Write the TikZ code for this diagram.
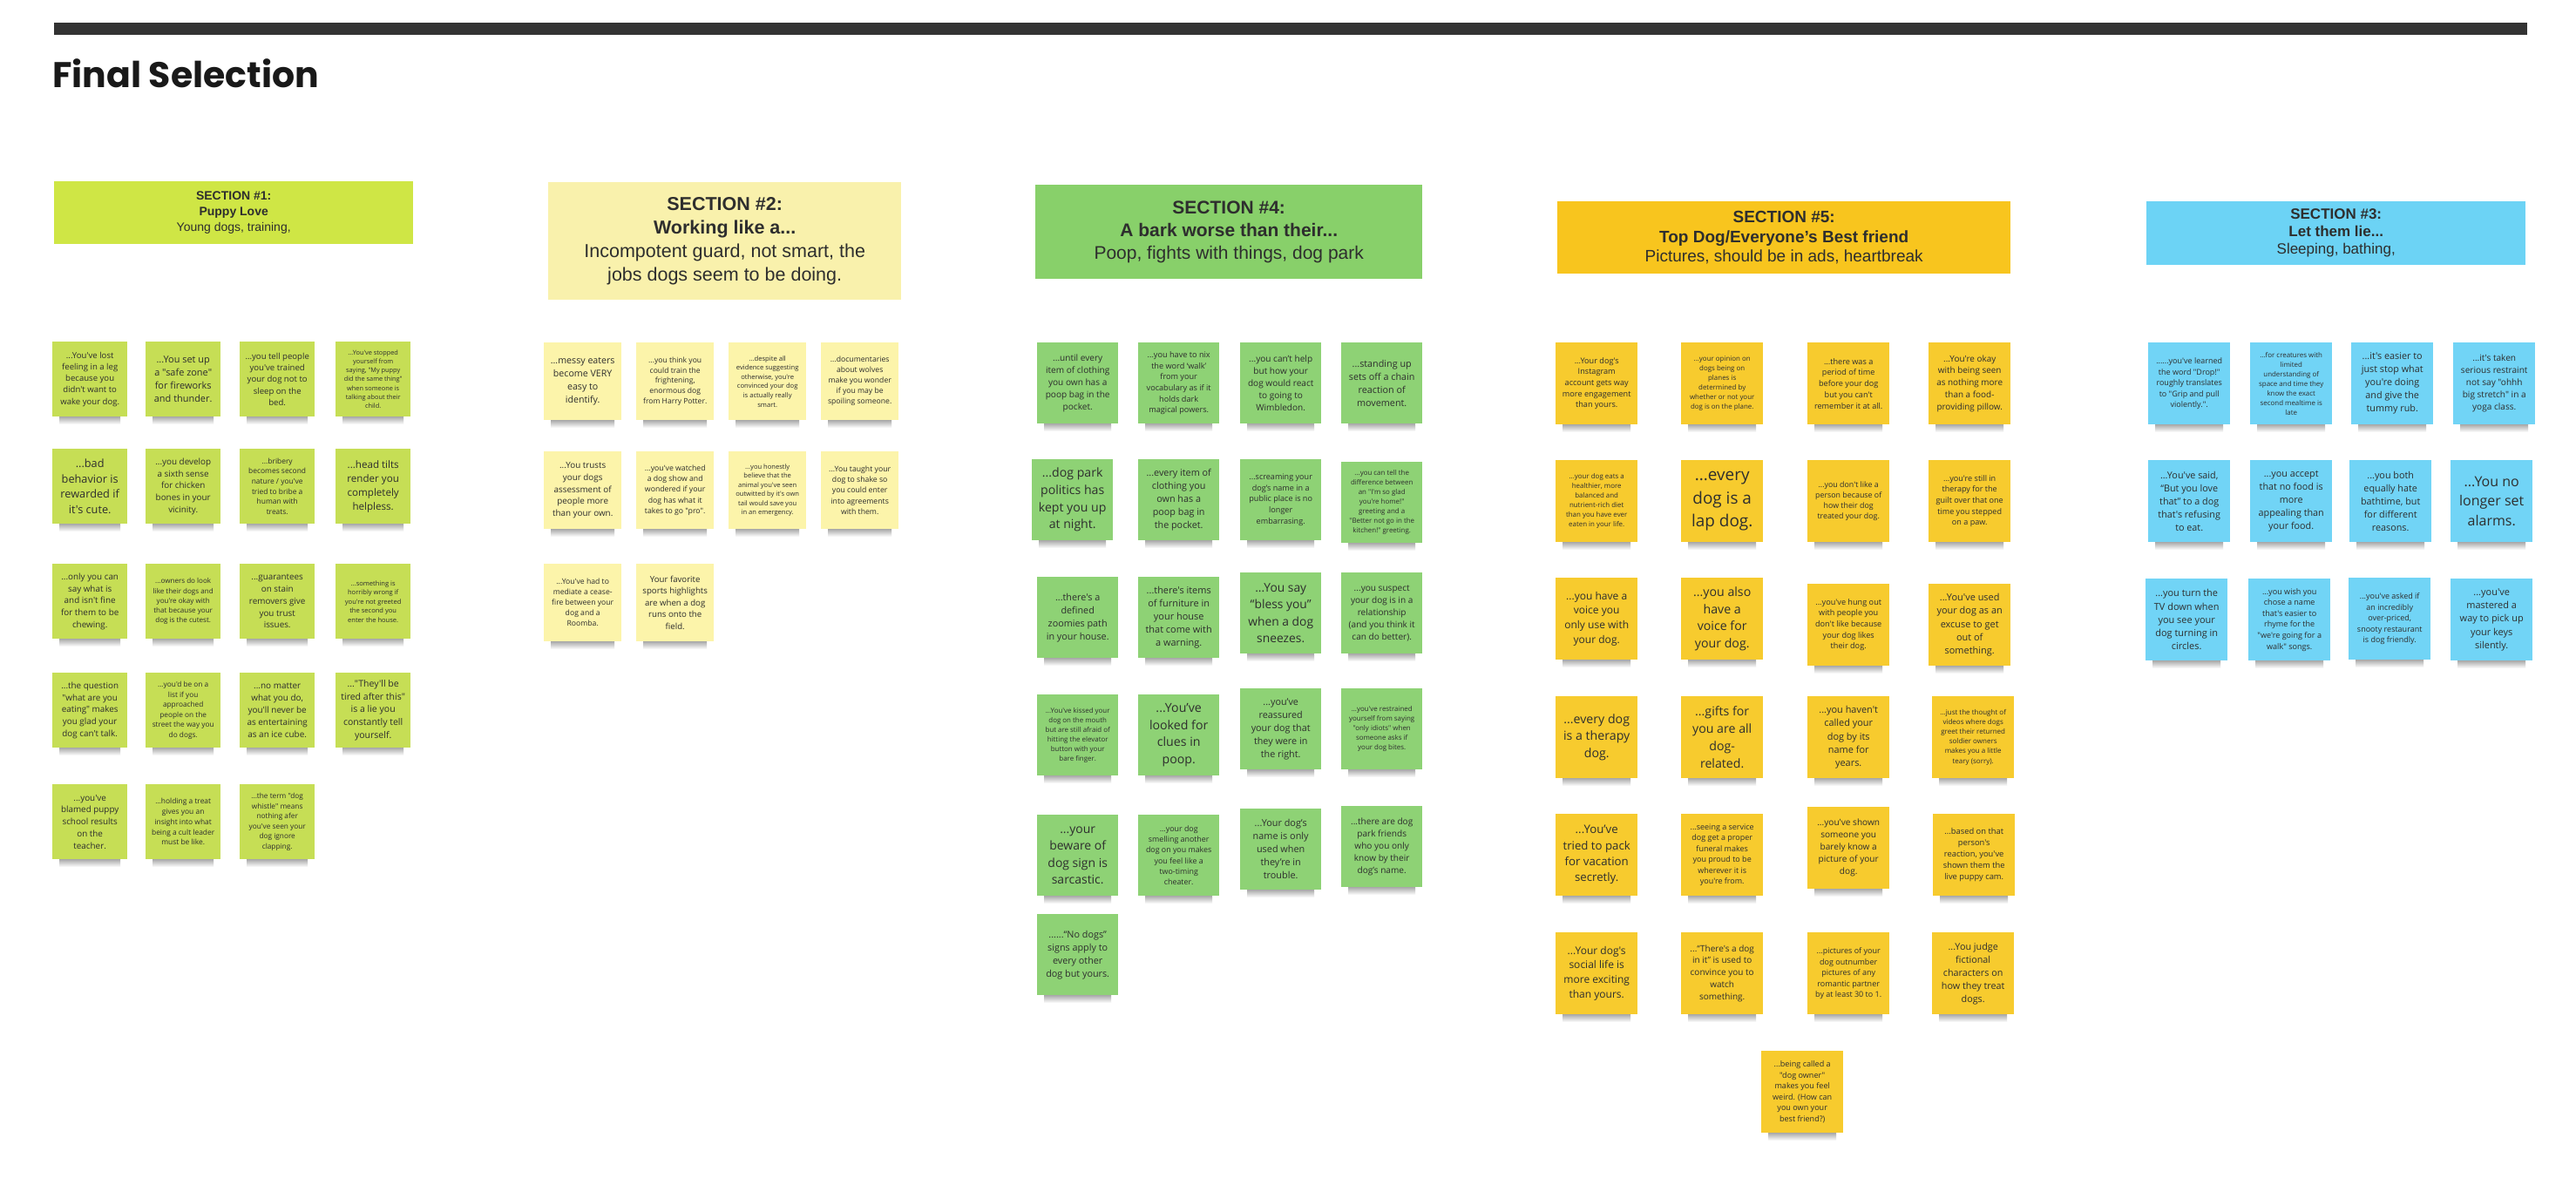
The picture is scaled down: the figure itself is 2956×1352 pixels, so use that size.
\documentclass[tikz,border=0pt]{standalone}
\usepackage{fontspec}
\setmainfont{Liberation Sans}
\newfontfamily\notefont{Open Sans}
\newfontfamily\titlefont{Poppins}

\definecolor{barcol}{HTML}{333333}
\definecolor{ink}{HTML}{2E2E2E}
\definecolor{limehead}{HTML}{CFE645}
\definecolor{limenote}{HTML}{C6DE55}
\definecolor{palehead}{HTML}{F9F1AC}
\definecolor{palenote}{HTML}{FCF4AA}
\definecolor{greenhead}{HTML}{88D06A}
\definecolor{greennote}{HTML}{8ED275}
\definecolor{goldhead}{HTML}{F8C51E}
\definecolor{goldnote}{HTML}{F7CB2E}
\definecolor{skyhead}{HTML}{6CD3F5}
\definecolor{skynote}{HTML}{71D4F6}

\tikzset{
  head/.style={fill=#1, anchor=north west, inner sep=0pt, align=center, text=ink},
  note/.style 2 args={fill=#1, anchor=north west, minimum size=#2, inner sep=1pt,
    align=center, text=ink},
}

\begin{document}
\begin{tikzpicture}[x=1pt,y=-1pt]
\useasboundingbox (0,0) rectangle (2956,1352);
\fill[white] (0,0) rectangle (2956,1352);
\fill[barcol] (62,26) rectangle (2900,40);
\node[anchor=base west, inner sep=0pt, text=black!90,
  font=\titlefont\bfseries\fontsize{41}{41}\selectfont] (title) at (60,100) {Final Selection};

% section headers
\node[head=limehead, minimum width=412pt, minimum height=72pt,
  font=\fontsize{14}{18}\selectfont] (sec1) at (62,208)
  {\textbf{SECTION \#1:}\\\textbf{Puppy Love}\\Young dogs, training,};
\node[head=palehead, minimum width=405pt, minimum height=135pt,
  font=\fontsize{21.5}{27.3}\selectfont] (sec2) at (629,209)
  {\textbf{SECTION \#2:}\\\textbf{Working like a...}\\Incompotent guard, not smart, the\\jobs dogs seem to be doing.};
\node[head=greenhead, minimum width=444pt, minimum height=108pt,
  font=\fontsize{21}{26}\selectfont] (sec4) at (1188,212)
  {\textbf{SECTION \#4:}\\\textbf{A bark worse than their...}\\Poop, fights with things, dog park};
\node[head=goldhead, minimum width=520pt, minimum height=83pt,
  font=\fontsize{19}{22.5}\selectfont] (sec5) at (1787,231)
  {\textbf{SECTION \#5:}\\\textbf{Top Dog/Everyone's Best friend}\\Pictures, should be in ads, heartbreak};
\node[head=skyhead, minimum width=435pt, minimum height=73pt,
  font=\fontsize{17}{20}\selectfont] (sec3) at (2463,231)
  {\textbf{SECTION \#3:}\\\textbf{Let them lie...}\\Sleeping, bathing,};

% section 1 notes
\foreach \x/\y/\s/\t [count=\i] in {
  60/392/13.3/{...You've lost\\feeling in a leg\\because you\\didn't want to\\wake your dog.},
  167/392/15.2/{...You set up\\a "safe zone"\\for fireworks\\and thunder.},
  275/392/13.3/{...you tell people\\you've trained\\your dog not to\\sleep on the\\bed.},
  385/392/10.2/{...You've stopped\\yourself from\\saying, "My puppy\\did the same thing"\\when someone is\\talking about their\\child.},
  60/515/17.7/{...bad\\behavior is\\rewarded if\\it's cute.},
  167/515/13.7/{...you develop\\a sixth sense\\for chicken\\bones in your\\vicinity.},
  275/515/11.7/{...bribery\\becomes second\\nature / you've\\tried to bribe a\\human with\\treats.},
  385/515/16.1/{...head tilts\\render you\\completely\\helpless.},
  60/647/13.7/{...only you can\\say what is\\and isn't fine\\for them to be\\chewing.},
  167/647/11.2/{...owners do look\\like their dogs and\\you're okay with\\that because your\\dog is the cutest.},
  275/647/13.7/{...guarantees\\on stain\\removers give\\you trust\\issues.},
  385/647/10.5/{...something is\\horribly wrong if\\you're not greeted\\the second you\\enter the house.},
  60/772/13.7/{...the question\\"what are you\\eating" makes\\you glad your\\dog can't talk.},
  167/772/11.5/{...you'd be on a\\list if you\\approached\\people on the\\street the way you\\do dogs.},
  275/772/13.8/{...no matter\\what you do,\\you'll never be\\as entertaining\\as an ice cube.},
  385/772/14.6/{..."They'll be\\tired after this"\\is a lie you\\constantly tell\\yourself.},
  60/900/13.7/{...you've\\blamed puppy\\school results\\on the\\teacher.},
  167/900/11.7/{...holding a treat\\gives you an\\insight into what\\being a cult leader\\must be like.},
  275/900/11.5/{...the term "dog\\whistle" means\\nothing afer\\you've seen your\\dog ignore\\clapping.}}
{
  \pgfmathsetmacro\fs{0.72*\s}
  \shade[top color=black!38, bottom color=white] (\x+8,\y+85) rectangle (\x+78,\y+95);
  \node[note={limenote}{86pt}, font={\notefont\fontsize{\fs pt}{\s pt}\selectfont}] (pup\i) at (\x,\y) {\t};
}

% section 2 notes
\foreach \x/\y/\s/\t [count=\i] in {
  624/393/14.8/{...messy eaters\\become VERY\\easy to\\identify.},
  730/393/11.9/{...you think you\\could train the\\frightening,\\enormous dog\\from Harry Potter.},
  836/393/10.6/{...despite all\\evidence suggesting\\otherwise, you're\\convinced your dog\\is actually really\\smart.},
  942/393/12/{...documentaries\\about wolves\\make you wonder\\if you may be\\spoiling someone.},
  624/518/13.7/{...You trusts\\your dogs\\assessment of\\people more\\than your own.},
  730/518/12.1/{...you've watched\\a dog show and\\wondered if your\\dog has what it\\takes to go "pro".},
  836/518/10.5/{...you honestly\\believe that the\\animal you've seen\\outwitted by it's own\\tail would save you\\in an emergency.},
  942/518/12.1/{...You taught your\\dog to shake so\\you could enter\\into agreements\\with them.},
  624/647/12/{...You've had to\\mediate a cease-\\fire between your\\dog and a\\Roomba.},
  730/647/13.4/{Your favorite\\sports highlights\\are when a dog\\runs onto the\\field.}}
{
  \pgfmathsetmacro\fs{0.72*\s}
  \shade[top color=black!38, bottom color=white] (\x+8,\y+88) rectangle (\x+81,\y+98);
  \node[note={palenote}{89pt}, font={\notefont\fontsize{\fs pt}{\s pt}\selectfont}] (work\i) at (\x,\y) {\t};
}

% section 4 notes
\foreach \x/\y/\s/\t [count=\i] in {
  1190/393/14/{...until every\\item of clothing\\you own has a\\poop bag in the\\pocket.},
  1306/393/12.7/{...you have to nix\\the word ‘walk’\\from your\\vocabulary as if it\\holds dark\\magical powers.},
  1423/393/14/{...you can’t help\\but how your\\dog would react\\to going to\\Wimbledon.},
  1539/393/15/{...standing up\\sets off a chain\\reaction of\\movement.},
  1184/527/19.6/{...dog park\\politics has\\kept you up\\at night.},
  1306/527/15/{...every item of\\clothing you\\own has a\\poop bag in\\the pocket.},
  1423/527/12.6/{...screaming your\\dog’s name in a\\public place is no\\longer\\embarrasing.},
  1539/530/11/{...you can tell the\\difference between\\an "I'm so glad\\you're home!"\\greeting and a\\"Better not go in the\\kitchen!" greeting.},
  1190/662/15/{...there's a\\defined\\zoomies path\\in your house.},
  1306/662/15.2/{...there's items\\of furniture in\\your house\\that come with\\a warning.},
  1423/657/19.2/{...You say\\“bless you”\\when a dog\\sneezes.},
  1539/657/14/{...you suspect\\your dog is in a\\relationship\\(and you think it\\can do better).},
  1190/797/11/{...You've kissed your\\dog on the mouth\\but are still afraid of\\hitting the elevator\\button with your\\bare finger.},
  1306/797/19.7/{...You’ve\\looked for\\clues in\\poop.},
  1423/790/15/{...you’ve\\reassured\\your dog that\\they were in\\the right.},
  1539/790/11/{...you've restrained\\yourself from saying\\"only idiots" when\\someone asks if\\your dog bites.},
  1190/935/19.4/{...your\\beware of\\dog sign is\\sarcastic.},
  1306/935/12.3/{...your dog\\smelling another\\dog on you makes\\you feel like a\\two-timing\\cheater.},
  1423/928/15.1/{...Your dog’s\\name is only\\used when\\they’re in\\trouble.},
  1539/925/14/{...there are dog\\park friends\\who you only\\know by their\\dog’s name.},
  1190/1049/15/{......“No dogs”\\signs apply to\\every other\\dog but yours.}}
{
  \pgfmathsetmacro\fs{0.72*\s}
  \shade[top color=black!38, bottom color=white] (\x+8,\y+92) rectangle (\x+85,\y+102);
  \node[note={greennote}{93pt}, font={\notefont\fontsize{\fs pt}{\s pt}\selectfont}] (bark\i) at (\x,\y) {\t};
}

% section 5 notes
\foreach \x/\y/\s/\t [count=\i] in {
  1785/393/12.7/{...Your dog's\\Instagram\\account gets way\\more engagement\\than yours.},
  1929/393/11/{...your opinion on\\dogs being on\\planes is\\determined by\\whether or not your\\dog is on the plane.},
  2074/393/12.7/{...there was a\\period of time\\before your dog\\but you can't\\remember it at all.},
  2213/393/13.8/{...You're okay\\with being seen\\as nothing more\\than a food-\\providing pillow.},
  1785/528/11/{...your dog eats a\\healthier, more\\balanced and\\nutrient-rich diet\\than you have ever\\eaten in your life.},
  1929/528/26.3/{...every\\dog is a\\lap dog.},
  2074/528/12.3/{...you don't like a\\person because of\\how their dog\\treated your dog.},
  2213/528/12.6/{...you're still in\\therapy for the\\guilt over that one\\time you stepped\\on a paw.},
  1785/663/16.7/{...you have a\\voice you\\only use with\\your dog.},
  1929/663/19.7/{...you also\\have a\\voice for\\your dog.},
  2074/670/12.7/{...you've hung out\\with people you\\don't like because\\your dog likes\\their dog.},
  2213/670/15.2/{...You've used\\your dog as an\\excuse to get\\out of\\something.},
  1785/799/19.7/{...every dog\\is a therapy\\dog.},
  1929/799/19.7/{...gifts for\\you are all\\dog-\\related.},
  2074/799/15.2/{...you haven't\\called your\\dog by its\\name for\\years.},
  2217/799/11.1/{...just the thought of\\videos where dogs\\greet their returned\\soldier owners\\makes you a little\\teary (sorry).},
  1785/934/18.4/{...You’ve\\tried to pack\\for vacation\\secretly.},
  1929/934/12.5/{...seeing a service\\dog get a proper\\funeral makes\\you proud to be\\wherever it is\\you're from.},
  2074/926/14/{...you've shown\\someone you\\barely know a\\picture of your\\dog.},
  2218/934/13/{...based on that\\person's\\reaction, you've\\shown them the\\live puppy cam.},
  1785/1070/16.7/{...Your dog's\\social life is\\more exciting\\than yours.},
  1929/1070/13.9/{...“There's a dog\\in it” is used to\\convince you to\\watch\\something.},
  2074/1070/12.5/{...pictures of your\\dog outnumber\\pictures of any\\romantic partner\\by at least 30 to 1.},
  2217/1070/15/{...You judge\\fictional\\characters on\\how they treat\\dogs.},
  2021/1206/12.6/{...being called a\\"dog owner"\\makes you feel\\weird. (How can\\you own your\\best friend?)}}
{
  \pgfmathsetmacro\fs{0.72*\s}
  \shade[top color=black!38, bottom color=white] (\x+8,\y+93) rectangle (\x+86,\y+103);
  \node[note={goldnote}{94pt}, font={\notefont\fontsize{\fs pt}{\s pt}\selectfont}] (top\i) at (\x,\y) {\t};
}

% section 3 notes
\foreach \x/\y/\s/\t [count=\i] in {
  2465/393/12.5/{......you've learned\\the word "Drop!"\\roughly translates\\to "Grip and pull\\violently.".},
  2582/393/11/{...for creatures with\\limited\\understanding of\\space and time they\\know the exact\\second mealtime is\\late},
  2698/393/15/{...it's easier to\\just stop what\\you're doing\\and give the\\tummy rub.},
  2815/393/14/{...it's taken\\serious restraint\\not say "ohhh\\big stretch" in a\\yoga class.},
  2465/528/15/{...You've said,\\“But you love\\that” to a dog\\that's refusing\\to eat.},
  2582/528/15/{...you accept\\that no food is\\more\\appealing than\\your food.},
  2696/528/15/{...you both\\equally hate\\bathtime, but\\for different\\reasons.},
  2812/528/22.2/{...You no\\longer set\\alarms.},
  2462/664/15.2/{...you turn the\\TV down when\\you see your\\dog turning in\\circles.},
  2580/664/12.6/{...you wish you\\chose a name\\that's easier to\\rhyme for the\\"we're going for a\\walk" songs.},
  2695/663/12.5/{...you've asked if\\an incredibly\\over-priced,\\snooty restaurant\\is dog friendly.},
  2812/664/15.2/{...you've\\mastered a\\way to pick up\\your keys\\silently.}}
{
  \pgfmathsetmacro\fs{0.72*\s}
  \shade[top color=black!38, bottom color=white] (\x+8,\y+93) rectangle (\x+86,\y+103);
  \node[note={skynote}{94pt}, font={\notefont\fontsize{\fs pt}{\s pt}\selectfont}] (lie\i) at (\x,\y) {\t};
}
\end{tikzpicture}
\end{document}
